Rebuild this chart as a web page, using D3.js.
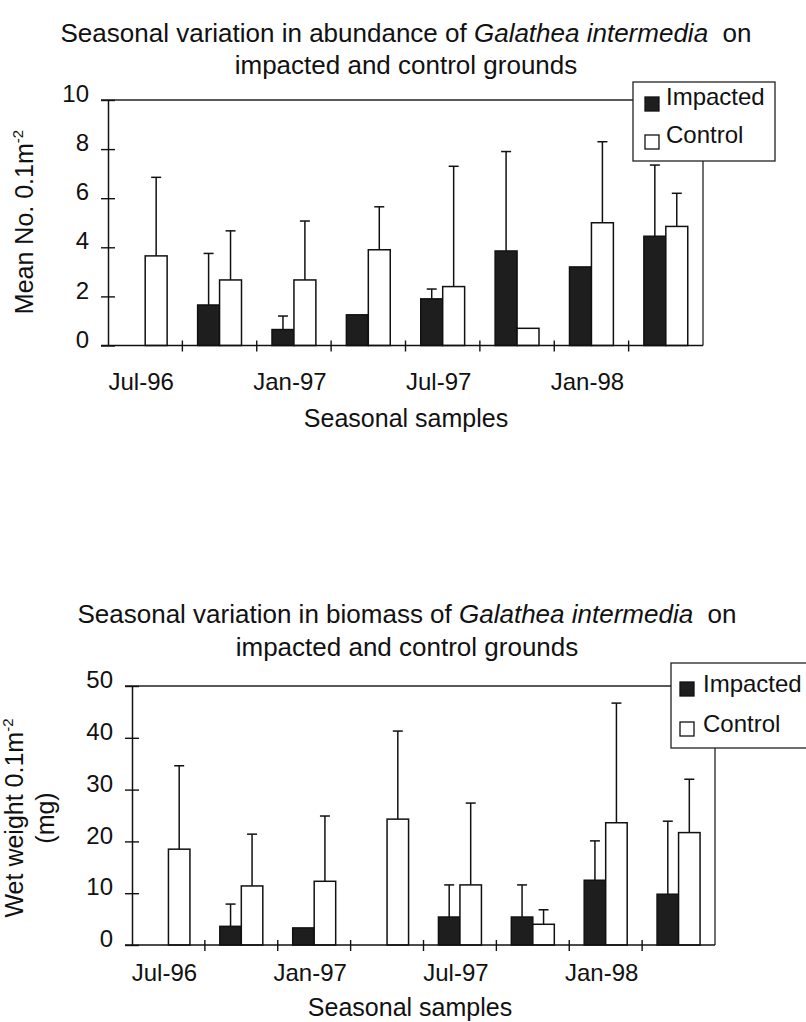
<!DOCTYPE html>
<html>
<head>
<meta charset="utf-8">
<script src="https://cdn.jsdelivr.net/npm/d3@7"></script>
<style>
  html, body { margin: 0; padding: 0; background: #fff; }
  svg { display: block; }
  text { font-family: "Liberation Sans", Arial, Helvetica, sans-serif; fill: #111; white-space: pre; }
</style>
</head>
<body>
<svg id="chart" width="806" height="1022"></svg>
<script>
// ---------------- data ----------------
const categories = ["Jul-96", "Oct-96", "Jan-97", "Apr-97", "Jul-97", "Oct-97", "Jan-98", "Apr-98"];
const xTickLabels = ["Jul-96", "Jan-97", "Jul-97", "Jan-98"];
const seriesNames = ["Impacted", "Control"];

// Abundance (Mean No. 0.1m-2)
const abundanceImpacted    = [0,    1.65, 0.65, 1.25, 1.9,  3.85, 3.2,  4.45];
const abundanceImpactedErr = [0,    2.1,  0.55, 0,    0.4,  4.05, 0,    2.9];
const abundanceControl     = [3.65, 2.67, 2.67, 3.9,  2.4,  0.7,  5.0,  4.85];
const abundanceControlErr  = [3.2,  2.0,  2.4,  1.75, 4.9,  0,    3.3,  1.35];
const abundanceTicks = [0, 2, 4, 6, 8, 10];

// Biomass (Wet weight 0.1m-2, mg)
const biomassImpacted    = [0,    3.6,  3.3,  0,    5.4,  5.4,  12.5, 9.8];
const biomassImpactedErr = [0,    4.3,  0,    0,    6.2,  6.2,  7.6,  14.1];
const biomassControl     = [18.5, 11.4, 12.3, 24.3, 11.6, 4.0,  23.6, 21.7];
const biomassControlErr  = [16.1, 10.0, 12.6, 17.0, 15.8, 2.8,  23.1, 10.3];
const biomassTicks = [0, 10, 20, 30, 40, 50];

// ---------------- drawing ----------------
const svg = d3.select("#chart");
const FILL = { Impacted: "#1e1e1e", Control: "#ffffff" };

function drawChart(cfg) {
  const g = svg.append("g");
  const x = d3.scaleBand().domain(categories).range([cfg.left, cfg.right]).paddingInner(0).paddingOuter(0);
  const xs = d3.scaleBand().domain(seriesNames).range([0, x.bandwidth()]).paddingInner(0).paddingOuter(0.695);
  const y = d3.scaleLinear().domain([0, d3.max(cfg.ticks)]).range([cfg.bottom, cfg.top]);

  // titles
  cfg.title.forEach((line, i) => {
    const t = g.append("text").attr("x", cfg.titleX).attr("y", cfg.titleY[i])
      .attr("text-anchor", "middle").style("font-size", "26px");
    line.forEach(seg => t.append("tspan").text(seg.t).style("font-style", seg.it ? "italic" : "normal"));
  });

  // frame: top and right border
  g.append("line").attr("x1", cfg.left - 7).attr("x2", cfg.right)
    .attr("y1", y(d3.max(cfg.ticks))).attr("y2", y(d3.max(cfg.ticks)))
    .attr("stroke", "#222").attr("stroke-width", 1.3);
  g.append("line").attr("x1", cfg.right).attr("x2", cfg.right)
    .attr("y1", y(d3.max(cfg.ticks))).attr("y2", y(0))
    .attr("stroke", "#222").attr("stroke-width", 1.3);

  // bars
  const rows = [];
  categories.forEach((c, i) => {
    rows.push({ c, s: "Impacted", v: cfg.imp[i], e: cfg.impErr[i] });
    rows.push({ c, s: "Control", v: cfg.ctl[i], e: cfg.ctlErr[i] });
  });

  // error bars (upper only)
  const eb = g.append("g").selectAll("g").data(rows.filter(d => d.e > 0)).join("g")
    .attr("stroke", "#111").attr("stroke-width", 1.5);
  eb.append("line")
    .attr("x1", d => x(d.c) + xs(d.s) + xs.bandwidth() / 2)
    .attr("x2", d => x(d.c) + xs(d.s) + xs.bandwidth() / 2)
    .attr("y1", d => y(d.v)).attr("y2", d => y(d.v + d.e));
  eb.append("line")
    .attr("x1", d => x(d.c) + xs(d.s) + xs.bandwidth() / 2 - 5)
    .attr("x2", d => x(d.c) + xs(d.s) + xs.bandwidth() / 2 + 5)
    .attr("y1", d => y(d.v + d.e)).attr("y2", d => y(d.v + d.e));

  g.append("g").selectAll("rect").data(rows.filter(d => d.v > 0)).join("rect")
    .attr("x", d => x(d.c) + xs(d.s))
    .attr("width", xs.bandwidth())
    .attr("y", d => y(d.v))
    .attr("height", d => y(0) - y(d.v))
    .attr("fill", d => FILL[d.s])
    .attr("stroke", "#111").attr("stroke-width", 1.5);

  // y axis
  const ya = g.append("g").attr("transform", `translate(${cfg.left},0)`)
    .call(d3.axisLeft(y).tickValues(cfg.ticks).tickSize(7).tickSizeOuter(0).tickPadding(12));
  ya.select(".domain").attr("stroke", "#111").attr("stroke-width", 1.5);
  ya.selectAll(".tick line").attr("x1", 7).attr("stroke", "#111").attr("stroke-width", 1.4);
  ya.selectAll(".tick text").attr("y", -6).style("font-size", "24px")
    .style("font-family", "'Liberation Sans', Arial, sans-serif").attr("fill", "#111");

  // x axis line and boundary ticks
  g.append("line").attr("x1", cfg.left - 7).attr("x2", cfg.right)
    .attr("y1", y(0)).attr("y2", y(0)).attr("stroke", "#111").attr("stroke-width", 1.5);
  g.append("g").selectAll("line").data(categories.slice(1)).join("line")
    .attr("x1", d => x(d)).attr("x2", d => x(d))
    .attr("y1", y(0) - 5).attr("y2", y(0) + 6)
    .attr("stroke", "#111").attr("stroke-width", 1.4);

  // x tick labels
  const xa = g.append("g").attr("transform", `translate(-4,${y(0)})`)
    .call(d3.axisBottom(x).tickValues(xTickLabels).tickSize(0).tickPadding(cfg.xLabelPad));
  xa.select(".domain").remove();
  xa.selectAll(".tick text").style("font-size", "24px")
    .style("font-family", "'Liberation Sans', Arial, sans-serif").attr("fill", "#111");

  // x axis title
  g.append("text").attr("x", cfg.xTitleX).attr("y", cfg.xTitleY)
    .attr("text-anchor", "middle").style("font-size", "25px").text("Seasonal samples");

  // y axis title
  cfg.yTitle.forEach((line, i) => {
    const t = g.append("text")
      .attr("transform", `translate(${cfg.yTitleX[i]},${cfg.yTitleY}) rotate(-90)`)
      .attr("text-anchor", "middle").style("font-size", "25px");
    t.append("tspan").text(line.main);
    if (line.sup) t.append("tspan").attr("dy", -10).style("font-size", "15px").text(line.sup);
  });

  // legend
  const lg = g.append("g");
  lg.append("rect").attr("x", cfg.legend.x).attr("y", cfg.legend.y)
    .attr("width", cfg.legend.w).attr("height", cfg.legend.h)
    .attr("fill", "#fff").attr("stroke", "#222").attr("stroke-width", 1.3);
  seriesNames.forEach((s, i) => {
    lg.append("rect").attr("x", cfg.legend.x + cfg.legend.sx).attr("y", cfg.legend.rowY[i] - 8)
      .attr("width", 14).attr("height", 14)
      .attr("fill", FILL[s]).attr("stroke", "#111").attr("stroke-width", 1.3);
    lg.append("text").attr("x", cfg.legend.x + cfg.legend.tx).attr("y", cfg.legend.rowY[i] + cfg.legend.base)
      .style("font-size", "24px").text(s);
  });
}

drawChart({
  left: 108, right: 703, top: 100, bottom: 345.5,
  ticks: abundanceTicks,
  imp: abundanceImpacted, impErr: abundanceImpactedErr,
  ctl: abundanceControl, ctlErr: abundanceControlErr,
  title: [
    [{ t: "Seasonal variation in abundance of " }, { t: "Galathea intermedia", it: true }, { t: "  on" }],
    [{ t: "impacted and control grounds" }]
  ],
  titleX: 406, titleY: [42, 74],
  xLabelPad: 27, xTitleX: 406, xTitleY: 427,
  yTitle: [{ main: "Mean No. 0.1m", sup: "-2" }], yTitleX: [33], yTitleY: 222,
  legend: { x: 633, y: 82, w: 142, h: 79, sx: 12, tx: 33, rowY: [105, 143], base: 0 }
});

drawChart({
  left: 132, right: 715, top: 686, bottom: 945,
  ticks: biomassTicks,
  imp: biomassImpacted, impErr: biomassImpactedErr,
  ctl: biomassControl, ctlErr: biomassControlErr,
  title: [
    [{ t: "Seasonal variation in biomass of " }, { t: "Galathea intermedia", it: true }, { t: "  on" }],
    [{ t: "impacted and control grounds" }]
  ],
  titleX: 407, titleY: [623, 656],
  xLabelPad: 19, xTitleX: 410, xTitleY: 1016,
  yTitle: [{ main: "Wet weight 0.1m", sup: "-2" }, { main: "(mg)" }], yTitleX: [23, 54], yTitleY: 818,
  legend: { x: 671, y: 663, w: 170, h: 85, sx: 9, tx: 32, rowY: [690, 730], base: 2 }
});
</script>
</body>
</html>
